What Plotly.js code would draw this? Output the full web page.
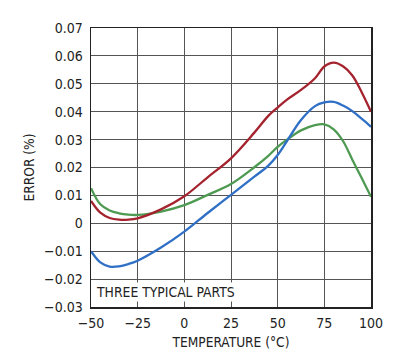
<!DOCTYPE html>
<html><head><meta charset="utf-8">
<script src="https://cdn.plot.ly/plotly-3.0.1.min.js"></script>
<style>html,body{margin:0;padding:0;background:#fff;}#chart{width:399px;height:362px;}</style>
</head><body><div id="chart"></div>
<script>
const temps = [-50,-45,-40,-35,-30,-25,-12.5,0,12.5,25,37.5,45,50,55,62.5,70,75,80,85,90,95,100];
const partRed = [0.008,0.0038,0.0019,0.0013,0.0013,0.0018,0.005,0.0097,0.0165,0.0233,0.0325,0.0385,0.0415,0.0443,0.0478,0.052,0.0562,0.0576,0.0563,0.053,0.047,0.040];
const partBlue = [-0.010,-0.0140,-0.0155,-0.0154,-0.0146,-0.0134,-0.0087,-0.003,0.0037,0.0102,0.0167,0.0207,0.0245,0.0295,0.037,0.042,0.0433,0.0435,0.0422,0.0402,0.0375,0.0346];
const partGreen = [0.0126,0.0068,0.0046,0.0036,0.0031,0.003,0.0042,0.0065,0.0102,0.0141,0.0201,0.0242,0.0274,0.030,0.0333,0.0352,0.0355,0.0337,0.0295,0.0228,0.0162,0.0095];
const xTicks = [-50,-25,0,25,50,75,100];
const yTicks = [-0.03,-0.02,-0.01,0,0.01,0.02,0.03,0.04,0.05,0.06,0.07];
const yTickText = ['\u22120.03','\u22120.02','\u22120.01','0','0.01','0.02','0.03','0.04','0.05','0.06','0.07'];
const xTickText = ['\u221250','\u221225','0','25','50','75','100'];

const font = 'DejaVu Sans Condensed, Liberation Sans, Arial, sans-serif';
function tr(y, c){ return {x: temps, y: y, mode:'lines', line:{color:c, width:2.3, shape:'spline', smoothing:1}, hoverinfo:'skip'}; }
const data = [tr(partGreen,'#4e9a52'), tr(partBlue,'#2f6fc6'), tr(partRed,'#a4232f')];
const layout = {
  width:399, height:362, showlegend:false,
  margin:{l:91, r:28, t:28, b:55},
  paper_bgcolor:'#fff', plot_bgcolor:'#fff',
  font:{family:font, size:13, color:'#222'},
  xaxis:{range:[-50,100], tickvals:xTicks, ticktext:xTickText, showgrid:true, gridcolor:'#555', gridwidth:1,
         zeroline:false, showline:true, linecolor:'#222', linewidth:1.5, mirror:true, ticks:'', ticklen:0,
         ticklabelstandoff:3, tickfont:{family:font, size:14, color:'#222'},
         title:{text:'TEMPERATURE (°C)', font:{family:font, size:13.6, color:'#222'}, standoff:7}},
  yaxis:{range:[-0.03,0.07], tickvals:yTicks, ticktext:yTickText, showgrid:true, gridcolor:'#555', gridwidth:1,
         zeroline:false, showline:true, linecolor:'#222', linewidth:1.5, mirror:true, ticks:'', ticklen:0,
         ticklabelstandoff:4, tickfont:{family:font, size:14, color:'#222'},
         title:{text:'ERROR (%)', font:{family:font, size:13.6, color:'#222'}, standoff:6}},
  annotations:[{x:-50, y:-0.0245, xref:'x', yref:'y', xanchor:'left', yanchor:'middle', xshift:3,
                text:'THREE TYPICAL PARTS', showarrow:false, bgcolor:'#fff', borderpad:1,
                font:{family:font, size:13.8, color:'#222'}}]
};
Plotly.newPlot('chart', data, layout, {displayModeBar:false, staticPlot:true});
</script></body></html>
